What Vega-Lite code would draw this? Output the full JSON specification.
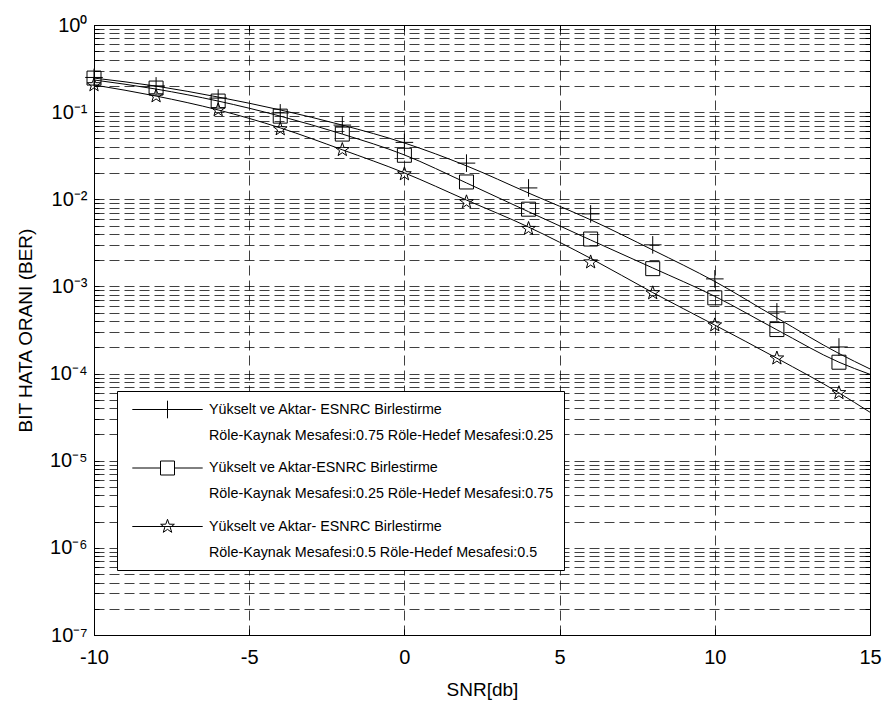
{
  "$schema": "https://vega.github.io/schema/vega-lite/v6.json",
  "width": 776,
  "height": 610,
  "autosize": {"type": "none"},
  "padding": {"left": 94, "top": 25, "right": 15, "bottom": 69},
  "background": "white",
  "config": {
    "view": {"stroke": "black", "strokeWidth": 1},
    "font": "Liberation Sans",
    "style": {"guide-label": {"lineHeight": 26}},
    "axis": {
      "domainColor": "black", "domainWidth": 1,
      "tickColor": "black", "labelColor": "black", "titleColor": "black",
      "gridColor": "black", "gridDash": [10, 5], "gridOpacity": 0.75, "gridWidth": 1,
      "labelFont": "Liberation Sans", "titleFont": "Liberation Sans", "titleFontWeight": "normal"
    }
  },
  "datasets": {
    "curves": [
      {"snr": -10, "ber": 0.246, "series": "A"}, {"snr": -8, "ber": 0.199, "series": "A"}, {"snr": -6, "ber": 0.149, "series": "A"}, {"snr": -4, "ber": 0.106, "series": "A"}, {"snr": -2, "ber": 0.071, "series": "A"}, {"snr": 0, "ber": 0.0443, "series": "A"}, {"snr": 2, "ber": 0.0242, "series": "A"}, {"snr": 4, "ber": 0.0118, "series": "A"}, {"snr": 6, "ber": 0.00581, "series": "A"}, {"snr": 8, "ber": 0.00262, "series": "A"}, {"snr": 10, "ber": 0.00114, "series": "A"}, {"snr": 12, "ber": 0.000436, "series": "A"}, {"snr": 14, "ber": 0.00017, "series": "A"}, {"snr": 15, "ber": 0.000113, "series": "A"},
      {"snr": -10, "ber": 0.234, "series": "B"}, {"snr": -8, "ber": 0.184, "series": "B"}, {"snr": -6, "ber": 0.134, "series": "B"}, {"snr": -4, "ber": 0.09, "series": "B"}, {"snr": -2, "ber": 0.056, "series": "B"}, {"snr": 0, "ber": 0.0323, "series": "B"}, {"snr": 2, "ber": 0.0154, "series": "B"}, {"snr": 4, "ber": 0.0072, "series": "B"}, {"snr": 6, "ber": 0.00341, "series": "B"}, {"snr": 8, "ber": 0.00163, "series": "B"}, {"snr": 10, "ber": 0.00077, "series": "B"}, {"snr": 12, "ber": 0.000318, "series": "B"}, {"snr": 14, "ber": 0.000135, "series": "B"}, {"snr": 15, "ber": 0.000098, "series": "B"},
      {"snr": -10, "ber": 0.205, "series": "C"}, {"snr": -8, "ber": 0.153, "series": "C"}, {"snr": -6, "ber": 0.106, "series": "C"}, {"snr": -4, "ber": 0.066, "series": "C"}, {"snr": -2, "ber": 0.037, "series": "C"}, {"snr": 0, "ber": 0.0201, "series": "C"}, {"snr": 2, "ber": 0.0098, "series": "C"}, {"snr": 4, "ber": 0.0048, "series": "C"}, {"snr": 6, "ber": 0.0021, "series": "C"}, {"snr": 8, "ber": 0.00085, "series": "C"}, {"snr": 10, "ber": 0.00036, "series": "C"}, {"snr": 12, "ber": 0.00015, "series": "C"}, {"snr": 14, "ber": 0.00006, "series": "C"}, {"snr": 15, "ber": 0.000036, "series": "C"}
    ],
    "markers": [
      {"snr": -10, "ber": 0.25, "series": "A"}, {"snr": -8, "ber": 0.2, "series": "A"}, {"snr": -6, "ber": 0.145, "series": "A"}, {"snr": -4, "ber": 0.098, "series": "A"}, {"snr": -2, "ber": 0.071, "series": "A"}, {"snr": 0, "ber": 0.045, "series": "A"}, {"snr": 2, "ber": 0.026, "series": "A"}, {"snr": 4, "ber": 0.0135, "series": "A"}, {"snr": 6, "ber": 0.0068, "series": "A"}, {"snr": 8, "ber": 0.003, "series": "A"}, {"snr": 10, "ber": 0.00122, "series": "A"}, {"snr": 12, "ber": 0.00051, "series": "A"}, {"snr": 14, "ber": 0.000202, "series": "A"},
      {"snr": -10, "ber": 0.246, "series": "B"}, {"snr": -8, "ber": 0.189, "series": "B"}, {"snr": -6, "ber": 0.134, "series": "B"}, {"snr": -4, "ber": 0.09, "series": "B"}, {"snr": -2, "ber": 0.056, "series": "B"}, {"snr": 0, "ber": 0.032, "series": "B"}, {"snr": 2, "ber": 0.0158, "series": "B"}, {"snr": 4, "ber": 0.0077, "series": "B"}, {"snr": 6, "ber": 0.0035, "series": "B"}, {"snr": 8, "ber": 0.0016, "series": "B"}, {"snr": 10, "ber": 0.00074, "series": "B"}, {"snr": 12, "ber": 0.00032, "series": "B"}, {"snr": 14, "ber": 0.000135, "series": "B"},
      {"snr": -10, "ber": 0.205, "series": "C"}, {"snr": -8, "ber": 0.153, "series": "C"}, {"snr": -6, "ber": 0.106, "series": "C"}, {"snr": -4, "ber": 0.064, "series": "C"}, {"snr": -2, "ber": 0.037, "series": "C"}, {"snr": 0, "ber": 0.0195, "series": "C"}, {"snr": 2, "ber": 0.0093, "series": "C"}, {"snr": 4, "ber": 0.0046, "series": "C"}, {"snr": 6, "ber": 0.0019, "series": "C"}, {"snr": 8, "ber": 0.00084, "series": "C"}, {"snr": 10, "ber": 0.00036, "series": "C"}, {"snr": 12, "ber": 0.00015, "series": "C"}, {"snr": 14, "ber": 0.00006, "series": "C"}
    ]
  },
  "layer": [
    {
      "data": {"name": "curves"},
      "mark": {"type": "line", "color": "black", "strokeWidth": 1, "interpolate": "monotone"},
      "encoding": {
        "x": {
          "field": "snr", "type": "quantitative",
          "scale": {"domain": [-10, 15], "nice": false, "zero": false},
          "axis": {
            "title": "SNR[db]", "titleFontSize": 19, "titleY": 54, "titleBaseline": "middle",
            "values": [-10, -5, 0, 5, 10, 15], "grid": true,
            "labelExpr": "datum.value < 0 ? '-' + abs(datum.value) : '' + datum.value",
            "tickSize": -6, "labelPadding": 18, "labelFontSize": 20, "labelFlush": false, "labelOverlap": false
          }
        },
        "y": {
          "field": "ber", "type": "quantitative",
          "scale": {"type": "log", "domain": [1e-7, 1], "nice": false},
          "axis": {
            "title": "BIT HATA ORANI (BER)", "titleFontSize": 19, "titleX": -69, "titleY": 305, "titleAngle": -90, "titleBaseline": "middle", "titleAlign": "center",
            "values": [1e-7, 2e-7, 3e-7, 4e-7, 5e-7, 6e-7, 7e-7, 8e-7, 9e-7, 1e-6, 2e-6, 3e-6, 4e-6, 5e-6, 6e-6, 7e-6, 8e-6, 9e-6, 1e-5, 2e-5, 3e-5, 4e-5, 5e-5, 6e-5, 7e-5, 8e-5, 9e-5, 0.0001, 0.0002, 0.0003, 0.0004, 0.0005, 0.0006, 0.0007, 0.0008, 0.0009, 0.001, 0.002, 0.003, 0.004, 0.005, 0.006, 0.007, 0.008, 0.009, 0.01, 0.02, 0.03, 0.04, 0.05, 0.06, 0.07, 0.08, 0.09, 0.1, 0.2, 0.3, 0.4, 0.5, 0.6, 0.7, 0.8, 0.9, 1],
            "labelExpr": "datum.value==1?'10⁰':datum.value==0.1?'10⁻¹':datum.value==0.01?'10⁻²':datum.value==0.001?'10⁻³':datum.value==0.0001?'10⁻⁴':datum.value==0.00001?'10⁻⁵':datum.value==0.000001?'10⁻⁶':datum.value==1e-7?'10⁻⁷':''",
            "grid": true, "tickSize": -5, "labelPadding": 12, "labelFontSize": 20, "labelOverlap": false, "labelFlush": false, "labelBound": false, "labelBaseline": "middle"
          }
        },
        "detail": {"field": "series"}
      }
    },
    {
      "data": {"name": "curves"},
      "mark": {"type": "line", "color": "black", "strokeWidth": 1, "opacity": 0},
      "encoding": {
        "x": {"field": "snr", "type": "quantitative", "axis": {"orient": "top", "values": [-10, -5, 0, 5, 10, 15], "labels": false, "title": null, "grid": false, "domain": false, "tickSize": -6}},
        "y": {"field": "ber", "type": "quantitative", "axis": {"orient": "right", "values": [1e-7, 2e-7, 3e-7, 4e-7, 5e-7, 6e-7, 7e-7, 8e-7, 9e-7, 1e-6, 2e-6, 3e-6, 4e-6, 5e-6, 6e-6, 7e-6, 8e-6, 9e-6, 1e-5, 2e-5, 3e-5, 4e-5, 5e-5, 6e-5, 7e-5, 8e-5, 9e-5, 0.0001, 0.0002, 0.0003, 0.0004, 0.0005, 0.0006, 0.0007, 0.0008, 0.0009, 0.001, 0.002, 0.003, 0.004, 0.005, 0.006, 0.007, 0.008, 0.009, 0.01, 0.02, 0.03, 0.04, 0.05, 0.06, 0.07, 0.08, 0.09, 0.1, 0.2, 0.3, 0.4, 0.5, 0.6, 0.7, 0.8, 0.9, 1], "labels": false, "title": null, "grid": false, "domain": false, "tickSize": -5}},
        "detail": {"field": "series"}
      }
    },
    {
      "data": {"name": "markers"},
      "mark": {"type": "point", "filled": false, "color": "black", "strokeWidth": 1, "size": 256, "opacity": 1},
      "encoding": {
        "x": {"field": "snr", "type": "quantitative", "axis": null},
        "y": {"field": "ber", "type": "quantitative", "axis": null},
        "shape": {
          "field": "series", "type": "nominal",
          "scale": {"domain": ["A", "B", "C"], "range": ["M-1.1,0H1.1M0,-1.1V1.1", "M-0.875,-0.875H0.875V0.875H-0.875Z", "M0,-0.9L0.212,-0.291L0.856,-0.278L0.342,0.111L0.529,0.728L0,0.36L-0.529,0.728L-0.342,0.111L-0.856,-0.278L-0.212,-0.291Z"]},
          "legend": null
        }
      }
    },
    {
      "data": {"name": "markers"},
      "mark": {"type": "point", "filled": false, "color": "black", "strokeWidth": 1, "size": 256, "opacity": 0},
      "encoding": {
        "x": {"field": "snr", "type": "quantitative", "axis": null},
        "y": {"field": "ber", "type": "quantitative", "axis": null},
        "shape": {
          "field": "series", "type": "nominal",
          "scale": {"domain": ["A", "B", "C"], "range": ["M-4.4,0H4.4M0,-1.1V1.1", "M-4.4,0H-0.875M0.875,0H4.4M-0.875,-0.875H0.875V0.875H-0.875Z", "M-4.4,0H4.4M0,-0.9L0.212,-0.291L0.856,-0.278L0.342,0.111L0.529,0.728L0,0.36L-0.529,0.728L-0.342,0.111L-0.856,-0.278L-0.212,-0.291Z"]},
          "legend": {
            "orient": "none", "legendX": 23, "legendY": 366, "title": null,
            "padding": 10, "strokeColor": "black", "fillColor": "white", "cornerRadius": 0,
            "symbolSize": 256, "symbolStrokeWidth": 1, "symbolStrokeColor": "black", "symbolFillColor": "transparent", "symbolOpacity": 1,
            "symbolOffset": 32, "labelOffset": 33,
            "labelFont": "Liberation Sans", "labelFontSize": 14.3, "labelColor": "black", "labelLimit": 1000,
            "rowPadding": 15.5,
            "labelExpr": "datum.value=='A' ? ['Yükselt ve Aktar- ESNRC Birlestirme', ' Röle-Kaynak Mesafesi:0.75 Röle-Hedef Mesafesi:0.25'] : datum.value=='B' ? ['Yükselt ve Aktar-ESNRC Birlestirme', 'Röle-Kaynak Mesafesi:0.25 Röle-Hedef Mesafesi:0.75'] : ['Yükselt ve Aktar- ESNRC Birlestirme', 'Röle-Kaynak Mesafesi:0.5 Röle-Hedef Mesafesi:0.5']",
            "encode": {"labels": {"lineHeight": {"value": 26}}}
          }
        }
      }
    }
  ],
  "resolve": {"scale": {"shape": "independent"}, "legend": {"shape": "independent"}, "axis": {"x": "independent", "y": "independent"}}
}
